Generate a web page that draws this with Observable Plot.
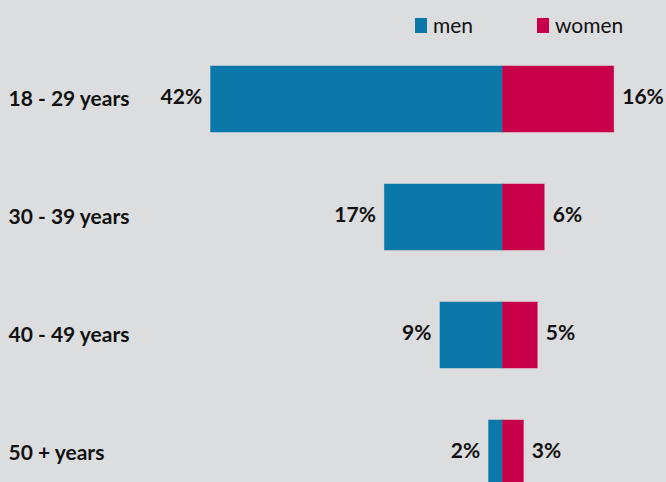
<!DOCTYPE html>
<html>
<head>
<meta charset="utf-8">
<script src="https://cdn.jsdelivr.net/npm/d3@7"></script>
<script src="https://cdn.jsdelivr.net/npm/@observablehq/plot@0.6"></script>
<style>
  html, body { margin: 0; padding: 0; background: #dcdddf; overflow: hidden; }
  #wrap { position: relative; width: 666px; height: 482px; }
  #legend { position: absolute; left: 0; top: 0; width: 666px; height: 40px; font-family: Lato, "Open Sans", sans-serif; font-size: 21px; color: #111; }
  .sw { position: absolute; top: 18px; width: 12px; height: 15px; }
  .lab { position: absolute; top: 14px; line-height: 21px; }
  svg { display: block; }
</style>
</head>
<body>
<div id="wrap">
  <div id="chart"></div>
  <div id="legend"></div>
</div>
<script>
const categories = ["18 - 29 years", "30 - 39 years", "40 - 49 years", "50 + years"];
const men = [42, 17, 9, 2];
const women = [16, 6, 5, 3];
const seriesNames = ["men", "women"];
const colors = ["#0a78a8", "#c8004a"];

const rows = [];
categories.forEach((c, i) => {
  rows.push({cat: c, sex: "men", value: men[i], x1: -men[i], x2: 0});
  rows.push({cat: c, sex: "women", value: women[i], x1: 0, x2: women[i]});
});
const menRows = rows.filter(d => d.sex === "men");
const womenRows = rows.filter(d => d.sex === "women");

const chart = Plot.plot({
  width: 666,
  height: 482,
  marginLeft: 189.75,
  marginRight: 3.65,
  marginTop: 0,
  marginBottom: 0,
  style: {background: "transparent", fontFamily: "Lato, 'Open Sans', sans-serif"},
  x: {domain: [-45, 23], axis: null},
  y: {domain: categories, range: [39.25, 513.25], paddingInner: 0.44, paddingOuter: 0.22, axis: null},
  color: {domain: seriesNames, range: colors},
  marks: [
    Plot.barX(rows, {y: "cat", x1: "x1", x2: "x2", fill: "sex", stroke: "sex", strokeOpacity: 0.6, strokeWidth: 0.8}),
    Plot.text(menRows, {y: "cat", x: "x1", text: d => d.value + "%", textAnchor: "end", dx: -9, dy: -2, fontSize: 21, fontWeight: "bold", fill: "#111"}),
    Plot.text(womenRows, {y: "cat", x: "x2", text: d => d.value + "%", textAnchor: "start", dx: 8, dy: -2, fontSize: 21, fontWeight: "bold", fill: "#111"}),
    Plot.text(categories, {y: d => d, x: -45, text: d => d, textAnchor: "start", dx: -181.75, dy: 0, fontSize: 21, fontWeight: "bold", fill: "#111"})
  ]
});
document.getElementById("chart").appendChild(chart);

const legend = document.getElementById("legend");
const legendX = [415, 537];
seriesNames.forEach((name, i) => {
  const sw = document.createElement("div");
  sw.className = "sw";
  sw.style.left = legendX[i] + "px";
  sw.style.background = colors[i];
  legend.appendChild(sw);
  const lab = document.createElement("div");
  lab.className = "lab";
  lab.style.left = (legendX[i] + 18) + "px";
  lab.textContent = name;
  legend.appendChild(lab);
});
</script>
</body>
</html>
